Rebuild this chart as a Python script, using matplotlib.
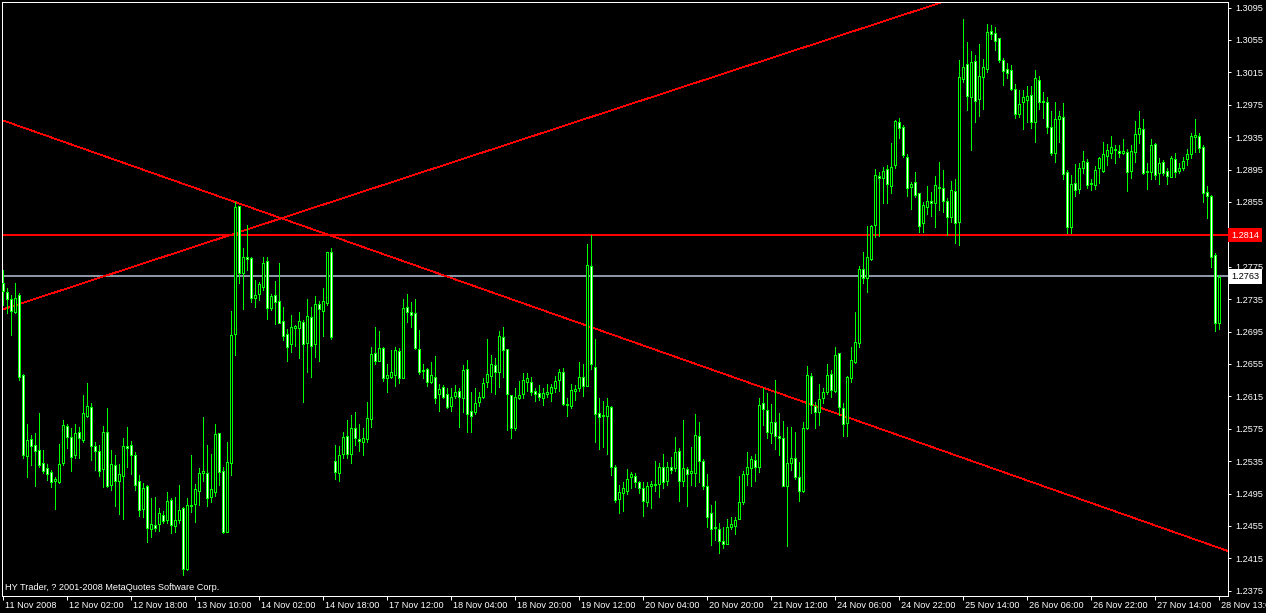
import matplotlib
matplotlib.use('Agg')
import matplotlib.pyplot as plt
import matplotlib.transforms as mtransforms
import numpy as np

# ---- data (H1 bars) ----
opens = [
1.2755,1.2744,1.2735,1.2719,1.2740,1.2641,1.2541,1.2562,1.2555,1.2549,
1.2533,1.2527,1.2522,1.2510,1.2509,1.2533,1.2578,1.2565,1.2543,1.2571,
1.2561,1.2591,1.2602,1.2554,1.2548,1.2525,1.2571,1.2505,1.2530,1.2510,
1.2517,1.2554,1.2555,1.2543,1.2510,1.2476,1.2504,1.2451,1.2456,1.2457,
1.2468,1.2462,1.2487,1.2455,1.2462,1.2477,1.2402,1.2481,1.2482,1.2498,
1.2520,1.2520,1.2491,1.2497,1.2570,1.2523,1.2447,1.2533,1.2692,1.2850,
1.2767,1.2787,1.2786,1.2736,1.2741,1.2750,1.2782,1.2724,1.2740,1.2733,
1.2708,1.2692,1.2680,1.2699,1.2699,1.2707,1.2681,1.2713,1.2680,1.2729,
1.2720,1.2730,1.2793,1.2535,1.2520,1.2544,1.2566,1.2544,1.2576,1.2562,
1.2559,1.2562,1.2587,1.2669,1.2659,1.2675,1.2638,1.2639,1.2641,1.2671,
1.2638,1.2725,1.2719,1.2718,1.2673,1.2646,1.2649,1.2633,1.2639,1.2618,
1.2626,1.2618,1.2603,1.2615,1.2622,1.2613,1.2649,1.2597,1.2596,1.2608,
1.2614,1.2633,1.2640,1.2654,1.2645,1.2688,1.2673,1.2617,1.2576,1.2613,
1.2618,1.2633,1.2633,1.2622,1.2619,1.2613,1.2618,1.2619,1.2625,1.2635,
1.2645,1.2606,1.2603,1.2622,1.2625,1.2639,1.2628,1.2776,1.2651,1.2594,
1.2591,1.2591,1.2602,1.2528,1.2488,1.2496,1.2498,1.2515,1.2517,1.2509,
1.2502,1.2485,1.2504,1.2505,1.2507,1.2528,1.2510,1.2528,1.2527,1.2548,
1.2510,1.2525,1.2520,1.2520,1.2566,1.2535,1.2504,1.2471,1.2452,1.2451,
1.2436,1.2433,1.2454,1.2455,1.2464,1.2485,1.2519,1.2527,1.2536,1.2528,
1.2607,1.2598,1.2570,1.2583,1.2566,1.2563,1.2504,1.2533,1.2539,1.2515,
1.2498,1.2576,1.2640,1.2603,1.2596,1.2613,1.2620,1.2643,1.2622,1.2669,
1.2601,1.2582,1.2638,1.2657,1.2681,1.2772,1.2761,1.2784,1.2827,1.2887,
1.2885,1.2896,1.2875,1.2901,1.2954,1.2948,1.2911,1.2873,1.2880,1.2866,
1.2829,1.2849,1.2856,1.2854,1.2873,1.2872,1.2856,1.2836,1.2868,1.2830,
1.3007,1.3025,1.2985,1.3029,1.2982,1.3009,1.3019,1.3066,1.3064,1.3057,
1.3030,1.3019,1.3018,1.2994,1.2964,1.2978,1.2981,1.2987,1.2954,1.3006,
1.2978,1.2978,1.2947,1.2915,1.2957,1.2960,1.2892,1.2824,1.2878,1.2871,
1.2897,1.2904,1.2877,1.2876,1.2897,1.2893,1.2912,1.2915,1.2920,1.2918,
1.2915,1.2917,1.2893,1.2917,1.2939,1.2945,1.2892,1.2892,1.2926,1.2891,
1.2904,1.2893,1.2886,1.2908,1.2893,1.2897,1.2908,1.2914,1.2935,1.2936,
1.2923,1.2867,1.2862,1.2790,1.2706]

highs = [
1.2771,1.2749,1.2740,1.2755,1.2743,1.2643,1.2581,1.2567,1.2570,1.2594,
1.2549,1.2532,1.2524,1.2515,1.2556,1.2586,1.2581,1.2576,1.2581,1.2577,
1.2617,1.2631,1.2607,1.2559,1.2555,1.2578,1.2601,1.2549,1.2543,1.2532,
1.2564,1.2577,1.2560,1.2546,1.2518,1.2508,1.2505,1.2489,1.2491,1.2477,
1.2473,1.2497,1.2489,1.2491,1.2505,1.2478,1.2489,1.2543,1.2507,1.2527,
1.2590,1.2555,1.2544,1.2581,1.2570,1.2528,1.2559,1.2720,1.2855,1.2850,
1.2798,1.2827,1.2787,1.2759,1.2756,1.2787,1.2787,1.2741,1.2757,1.2780,
1.2725,1.2698,1.2716,1.2703,1.2719,1.2709,1.2735,1.2725,1.2739,1.2733,
1.2749,1.2793,1.2798,1.2555,1.2554,1.2571,1.2586,1.2592,1.2596,1.2581,
1.2576,1.2608,1.2676,1.2701,1.2696,1.2676,1.2655,1.2672,1.2676,1.2675,
1.2735,1.2741,1.2731,1.2735,1.2697,1.2655,1.2650,1.2657,1.2665,1.2630,
1.2629,1.2625,1.2625,1.2629,1.2625,1.2654,1.2660,1.2620,1.2625,1.2620,
1.2638,1.2686,1.2666,1.2662,1.2696,1.2701,1.2673,1.2617,1.2625,1.2634,
1.2644,1.2644,1.2639,1.2625,1.2629,1.2625,1.2630,1.2630,1.2640,1.2649,
1.2650,1.2613,1.2630,1.2629,1.2657,1.2655,1.2803,1.2814,1.2686,1.2613,
1.2609,1.2613,1.2603,1.2530,1.2505,1.2509,1.2525,1.2522,1.2520,1.2510,
1.2509,1.2509,1.2510,1.2535,1.2533,1.2544,1.2534,1.2540,1.2565,1.2551,
1.2586,1.2528,1.2552,1.2593,1.2583,1.2538,1.2519,1.2481,1.2486,1.2459,
1.2454,1.2464,1.2466,1.2466,1.2517,1.2523,1.2546,1.2541,1.2544,1.2613,
1.2625,1.2619,1.2606,1.2635,1.2594,1.2584,1.2577,1.2577,1.2571,1.2534,
1.2583,1.2653,1.2644,1.2608,1.2630,1.2625,1.2655,1.2648,1.2676,1.2669,
1.2607,1.2640,1.2676,1.2719,1.2776,1.2793,1.2825,1.2827,1.2896,1.2892,
1.2898,1.2901,1.2928,1.2956,1.2959,1.2950,1.2914,1.2880,1.2892,1.2866,
1.2855,1.2875,1.2867,1.2887,1.2904,1.2894,1.2860,1.2881,1.2883,1.3030,
1.3081,1.3052,1.3041,1.3036,1.3050,1.3031,1.3075,1.3073,1.3071,1.3057,
1.3033,1.3027,1.3024,1.3001,1.2993,1.2993,1.2998,1.2998,1.3018,1.3011,
1.2991,1.2985,1.2967,1.2978,1.2967,1.2977,1.2894,1.2888,1.2902,1.2903,
1.2918,1.2908,1.2883,1.2899,1.2910,1.2929,1.2927,1.2936,1.2925,1.2925,
1.2933,1.2920,1.2925,1.2955,1.2967,1.2957,1.2903,1.2933,1.2928,1.2909,
1.2907,1.2897,1.2912,1.2915,1.2903,1.2910,1.2920,1.2940,1.2957,1.2940,
1.2925,1.2875,1.2864,1.2792,1.2765]

lows = [
1.2728,1.2718,1.2691,1.2718,1.2635,1.2539,1.2515,1.2530,1.2504,1.2528,
1.2520,1.2512,1.2503,1.2476,1.2508,1.2530,1.2551,1.2523,1.2539,1.2539,
1.2559,1.2590,1.2536,1.2524,1.2517,1.2503,1.2503,1.2499,1.2480,1.2470,
1.2464,1.2528,1.2519,1.2499,1.2467,1.2466,1.2435,1.2441,1.2449,1.2449,
1.2459,1.2459,1.2446,1.2447,1.2459,1.2394,1.2401,1.2472,1.2460,1.2481,
1.2510,1.2480,1.2485,1.2492,1.2505,1.2446,1.2447,1.2518,1.2666,1.2755,
1.2723,1.2771,1.2731,1.2725,1.2734,1.2746,1.2710,1.2722,1.2704,1.2706,
1.2685,1.2659,1.2670,1.2677,1.2662,1.2608,1.2645,1.2639,1.2664,1.2659,
1.2690,1.2728,1.2686,1.2513,1.2510,1.2539,1.2539,1.2533,1.2555,1.2548,
1.2543,1.2559,1.2577,1.2655,1.2659,1.2634,1.2620,1.2638,1.2628,1.2632,
1.2638,1.2707,1.2700,1.2673,1.2643,1.2638,1.2628,1.2631,1.2607,1.2597,
1.2613,1.2601,1.2597,1.2613,1.2577,1.2596,1.2571,1.2571,1.2593,1.2603,
1.2613,1.2626,1.2620,1.2618,1.2627,1.2639,1.2573,1.2563,1.2573,1.2612,
1.2613,1.2621,1.2617,1.2609,1.2610,1.2604,1.2614,1.2609,1.2620,1.2621,
1.2604,1.2591,1.2601,1.2610,1.2622,1.2615,1.2628,1.2649,1.2559,1.2550,
1.2552,1.2544,1.2518,1.2485,1.2471,1.2473,1.2495,1.2502,1.2503,1.2496,
1.2467,1.2480,1.2477,1.2498,1.2491,1.2502,1.2505,1.2520,1.2523,1.2486,
1.2504,1.2480,1.2505,1.2504,1.2509,1.2500,1.2454,1.2432,1.2438,1.2422,
1.2428,1.2433,1.2451,1.2445,1.2464,1.2482,1.2505,1.2504,1.2510,1.2522,
1.2580,1.2564,1.2557,1.2550,1.2543,1.2504,1.2430,1.2524,1.2513,1.2486,
1.2497,1.2575,1.2595,1.2576,1.2580,1.2607,1.2618,1.2614,1.2620,1.2592,
1.2566,1.2566,1.2633,1.2656,1.2676,1.2755,1.2744,1.2783,1.2812,1.2813,
1.2854,1.2854,1.2866,1.2897,1.2934,1.2911,1.2862,1.2846,1.2861,1.2818,
1.2818,1.2840,1.2838,1.2824,1.2845,1.2843,1.2814,1.2830,1.2804,1.2802,
1.3003,1.2969,1.2919,1.2954,1.2961,1.2970,1.3015,1.3056,1.3043,1.3028,
1.2999,1.3008,1.2993,1.2959,1.2960,1.2945,1.2954,1.2946,1.2929,1.2970,
1.2959,1.2940,1.2913,1.2904,1.2929,1.2883,1.2817,1.2817,1.2862,1.2866,
1.2891,1.2872,1.2870,1.2871,1.2878,1.2892,1.2901,1.2909,1.2903,1.2911,
1.2914,1.2868,1.2885,1.2904,1.2928,1.2890,1.2871,1.2883,1.2883,1.2877,
1.2888,1.2877,1.2886,1.2886,1.2891,1.2894,1.2901,1.2909,1.2917,1.2917,
1.2855,1.2835,1.2775,1.2696,1.2698]

closes = [
1.2745,1.2735,1.2720,1.2736,1.2639,1.2543,1.2561,1.2554,1.2548,1.2530,
1.2523,1.2519,1.2509,1.2513,1.2532,1.2580,1.2565,1.2540,1.2570,1.2563,
1.2594,1.2603,1.2554,1.2548,1.2523,1.2571,1.2504,1.2532,1.2510,1.2519,
1.2554,1.2551,1.2543,1.2505,1.2475,1.2502,1.2452,1.2457,1.2452,1.2471,
1.2461,1.2486,1.2456,1.2462,1.2475,1.2402,1.2481,1.2480,1.2500,1.2520,
1.2523,1.2489,1.2500,1.2568,1.2522,1.2447,1.2534,1.2691,1.2849,1.2767,
1.2787,1.2785,1.2736,1.2740,1.2754,1.2780,1.2724,1.2739,1.2731,1.2706,
1.2690,1.2676,1.2701,1.2702,1.2708,1.2680,1.2714,1.2677,1.2729,1.2723,
1.2733,1.2793,1.2688,1.2522,1.2543,1.2565,1.2544,1.2576,1.2563,1.2560,
1.2563,1.2588,1.2667,1.2659,1.2675,1.2638,1.2641,1.2645,1.2672,1.2638,
1.2724,1.2719,1.2716,1.2675,1.2645,1.2648,1.2633,1.2641,1.2613,1.2624,
1.2614,1.2602,1.2614,1.2620,1.2614,1.2648,1.2593,1.2591,1.2607,1.2614,
1.2631,1.2643,1.2655,1.2645,1.2690,1.2672,1.2618,1.2576,1.2614,1.2617,
1.2635,1.2638,1.2620,1.2618,1.2614,1.2619,1.2620,1.2627,1.2634,1.2645,
1.2606,1.2604,1.2623,1.2624,1.2639,1.2628,1.2777,1.2655,1.2593,1.2590,
1.2592,1.2603,1.2528,1.2487,1.2497,1.2502,1.2513,1.2519,1.2509,1.2502,
1.2486,1.2504,1.2507,1.2507,1.2528,1.2509,1.2528,1.2524,1.2546,1.2510,
1.2527,1.2519,1.2523,1.2567,1.2535,1.2504,1.2466,1.2451,1.2454,1.2436,
1.2433,1.2454,1.2457,1.2462,1.2485,1.2519,1.2528,1.2538,1.2528,1.2604,
1.2599,1.2571,1.2583,1.2566,1.2563,1.2504,1.2533,1.2539,1.2515,1.2498,
1.2576,1.2641,1.2604,1.2596,1.2612,1.2620,1.2641,1.2623,1.2666,1.2602,
1.2581,1.2639,1.2660,1.2682,1.2772,1.2761,1.2787,1.2825,1.2888,1.2885,
1.2893,1.2877,1.2898,1.2955,1.2946,1.2913,1.2872,1.2877,1.2864,1.2825,
1.2851,1.2856,1.2854,1.2876,1.2872,1.2856,1.2836,1.2870,1.2829,1.3009,
1.3022,1.2986,1.3028,1.2980,1.3011,1.3022,1.3065,1.3062,1.3054,1.3030,
1.3017,1.3014,1.2994,1.2964,1.2976,1.2985,1.2986,1.2954,1.3008,1.2978,
1.2980,1.2947,1.2915,1.2957,1.2961,1.2889,1.2824,1.2877,1.2870,1.2897,
1.2906,1.2876,1.2878,1.2894,1.2909,1.2914,1.2919,1.2923,1.2919,1.2915,
1.2918,1.2892,1.2918,1.2939,1.2946,1.2891,1.2893,1.2925,1.2888,1.2903,
1.2891,1.2887,1.2909,1.2892,1.2897,1.2906,1.2914,1.2936,1.2938,1.2922,
1.2866,1.2862,1.2787,1.2706,1.2762]

time_tick_bars = [0, 16, 32, 48, 64, 80, 96, 112, 128, 144, 160, 176, 192,
                  208, 224, 240, 256, 272, 288, 304]
time_tick_labels = ["11 Nov 2008", "12 Nov 02:00", "12 Nov 18:00", "13 Nov 10:00",
                    "14 Nov 02:00", "14 Nov 18:00", "17 Nov 12:00", "18 Nov 04:00",
                    "18 Nov 20:00", "19 Nov 12:00", "20 Nov 04:00", "20 Nov 20:00",
                    "21 Nov 12:00", "24 Nov 06:00", "24 Nov 22:00", "25 Nov 14:00",
                    "26 Nov 06:00", "26 Nov 22:00", "27 Nov 14:00", "28 Nov 13:00"]
# 1.2815 is hidden behind the 1.2814 level label in the reference
price_ticks = [1.2375, 1.2415, 1.2455, 1.2495, 1.2535, 1.2575, 1.2615, 1.2655,
               1.2695, 1.2735, 1.2775, 1.2855, 1.2895, 1.2935, 1.2975,
               1.3015, 1.3055, 1.3095]

level_red = 1.2814      # horizontal line
bid_level = 1.2763      # bid line
trend_down_x = [-0.25, 306.25]
trend_down_y = [1.2956, 1.2424]
trend_up_x = [-0.25, 234.4]
trend_up_y = [1.2722, 1.3101]

assert len(opens) == len(highs) == len(lows) == len(closes)

# ---- figure ----
W, H, DPI = 1266, 613, 100
px = 72.0 / DPI
fig = plt.figure(figsize=(W / DPI, H / DPI), dpi=DPI, facecolor='black')
ax = fig.add_axes([2 / W, 17 / H, 1226 / W, 594 / H])
ax.set_facecolor('black')

o = np.array(opens); h = np.array(highs); l = np.array(lows); c = np.array(closes)
x = np.arange(len(c))
lime = '#00FF00'
red = '#FF0000'

ax.vlines(x, l, h, color=lime, lw=1 * px, antialiased=False, zorder=3)
bottoms = np.minimum(o, c)
heights = np.abs(c - o)
fills = ['white' if cc < oo else 'black' for oo, cc in zip(o, c)]
ax.bar(x, heights, bottom=bottoms, width=0.5, color=fills, edgecolor=lime,
       linewidth=1 * px, antialiased=False, zorder=4)

# lines
ax.plot([-0.25, 306.25], [level_red, level_red], color=red, lw=0.8,
        antialiased=False, snap=False, solid_capstyle='butt', zorder=2)
ax.plot([-0.25, 306.25], [bid_level, bid_level], color='#8A96A6', lw=0.8,
        antialiased=False, snap=False, solid_capstyle='butt', zorder=2)
ax.plot(trend_down_x, trend_down_y, color=red, lw=0.5, antialiased=False, zorder=2)
ax.plot(trend_up_x, trend_up_y, color=red, lw=0.5, antialiased=False, zorder=2)

ax.set_xlim(-0.25, 306.25)
ax.set_ylim(1.23685, 1.31018)

for s in ax.spines.values():
    s.set_color('white')
    s.set_linewidth(1 * px)

fontfam = 'Liberation Sans'
fs = 6.6

ax.yaxis.tick_right()
ax.set_yticks(price_ticks)
ax.set_yticklabels([f"{v:.4f}" for v in price_ticks], fontfamily=fontfam, fontsize=fs)
ax.tick_params(axis='y', colors='white', direction='out', length=3 * px, width=1 * px,
               pad=4 * px, labelcolor='white')

ax.set_xticks(time_tick_bars)
ax.set_xticklabels(time_tick_labels, fontfamily=fontfam, fontsize=fs, ha='left')
ax.tick_params(axis='x', colors='white', direction='out', length=4 * px, width=1 * px,
               pad=1, labelcolor='white')
offset = mtransforms.ScaledTranslation(2 / DPI, 0, fig.dpi_scale_trans)
for lab in ax.get_xticklabels():
    lab.set_transform(lab.get_transform() + offset)

# price labels on the axis
btr = mtransforms.blended_transform_factory(ax.transAxes, ax.transData)
ax.text(1.0024, level_red, f"{level_red:.4f}", transform=btr, ha='left', va='center',
        fontsize=fs, fontfamily=fontfam, color='white', clip_on=False, zorder=6,
        bbox=dict(boxstyle='square,pad=0.3', fc=red, ec='none'))
ax.text(1.0024, bid_level, f"{bid_level:.4f}", transform=btr, ha='left', va='center',
        fontsize=fs, fontfamily=fontfam, color='black', clip_on=False, zorder=6,
        bbox=dict(boxstyle='square,pad=0.3', fc='white', ec='none'))

fig.text(5 / W, 1 - 587 / H, "HY Trader, ? 2001-2008 MetaQuotes Software Corp.",
         color='white', fontsize=fs, fontfamily=fontfam, va='center', ha='left')

fig.savefig('out.png', dpi=DPI, facecolor='black')
